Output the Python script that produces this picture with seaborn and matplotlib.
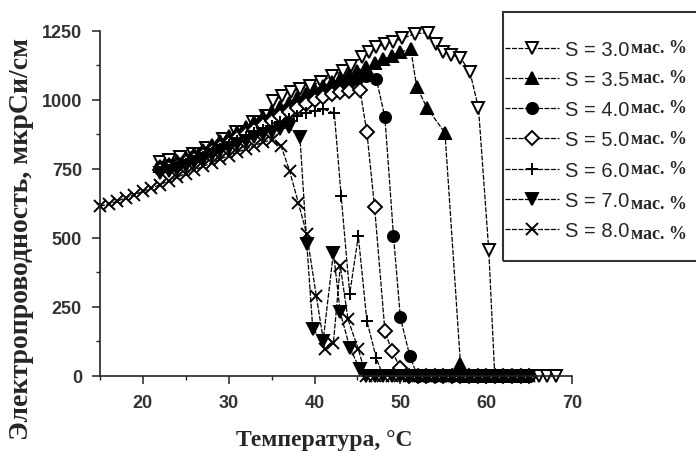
import matplotlib
matplotlib.use("Agg")
import matplotlib.pyplot as plt
from matplotlib.patches import Rectangle
from matplotlib.ticker import MultipleLocator
import seaborn as sns

# conductivity vs temperature for several surfactant contents S (mass %)
S_LABELS = ["S = 3.0", "S = 3.5", "S = 4.0", "S = 5.0", "S = 6.0", "S = 7.0", "S = 8.0"]

T_30 = [22, 23, 24.3, 25.8, 27.4, 29.3, 30.9, 32.8, 34.4, 35.2, 36.2, 37.3, 38.3, 39.5, 40.7,
        42, 43.3, 44.3, 45.5, 46.3, 47.2, 48.2, 49.2, 50.2, 51.7, 53.2, 54.1, 55, 55.9, 57,
        58.1, 59.1, 60.3, 61, 62, 63, 64, 65, 66.2, 67.1, 68.1]
K_30 = [775, 783, 791, 803, 827, 858, 882, 918, 942, 996, 1014, 1027, 1039, 1050, 1065,
        1085, 1105, 1123, 1154, 1172, 1190, 1202, 1210, 1222, 1239, 1243, 1203, 1174, 1163, 1152,
        1101, 971, 456, 0, 0, 0, 0, 0, 0, 0, 0]

T_35 = [22, 23, 24, 25, 26, 27, 28, 29, 30, 31, 32, 33, 34, 35, 36, 37, 38, 39, 40, 41, 42, 43,
        44, 45, 46, 47, 48, 49, 50, 51.2, 51.9, 53.1, 55.2, 57.0, 57.6, 58.5, 59.5, 60.5, 61.5,
        62.5, 63.5, 64.5]
K_35 = [760, 768, 778, 790, 803, 818, 835, 852, 868, 884, 900, 918, 936, 955, 973, 990, 1005,
        1020, 1035, 1050, 1063, 1076, 1090, 1104, 1118, 1133, 1148, 1160, 1172, 1185, 1047, 971,
        880, 45, 0, 0, 0, 0, 0, 0, 0, 0]

T_40 = [22, 23, 24, 25, 26, 27, 28, 29, 30, 31, 32, 33, 34, 35, 36, 37, 38, 39, 40, 41, 42, 43,
        44, 45, 46, 47.2, 48.2, 49.2, 50.0, 51.1, 52, 53, 54, 55, 56, 57, 58, 59, 60, 61, 62, 63,
        64, 65]
K_40 = [755, 763, 772, 783, 795, 810, 825, 840, 855, 870, 886, 902, 918, 935, 952, 968, 984, 998,
        1012, 1026, 1040, 1052, 1064, 1075, 1085, 1075, 936, 507, 212, 72, 0, 0, 0, 0, 0, 0, 0,
        0, 0, 0, 0, 0, 0, 0]

T_50 = [22, 23, 24, 25, 26, 27, 28, 29, 30, 31, 32, 33, 34, 35, 36, 37, 38, 39, 40, 41, 42, 43,
        44, 45.3, 46.1, 47.0, 48.2, 49.0, 50.0, 51, 52, 53, 54, 55, 56, 57, 58, 59, 60, 61, 62,
        63, 64, 65]
K_50 = [745, 752, 762, 773, 785, 800, 815, 830, 845, 860, 876, 892, 908, 924, 940, 955, 970, 985,
        1000, 1010, 1020, 1028, 1032, 1035, 882, 610, 163, 90, 30, 0, 0, 0, 0, 0, 0, 0, 0, 0, 0,
        0, 0, 0, 0, 0]

T_60 = [22, 23, 24, 25, 26, 27, 28, 29, 30, 31, 32, 33, 34, 35, 36, 37, 38, 39, 40, 41, 42.3,
        43.1, 44.1, 45.1, 46.1, 47.2, 48, 49, 50, 51, 52, 53, 54, 55, 56, 57, 58, 59, 60, 61, 62,
        63, 64, 65]
K_60 = [740, 747, 756, 767, 779, 793, 808, 822, 836, 850, 864, 878, 892, 906, 919, 931, 942, 952,
        960, 966, 952, 652, 298, 507, 199, 64, 0, 0, 0, 0, 0, 0, 0, 0, 0, 0, 0, 0, 0, 0, 0, 0, 0, 0]

T_70 = [22, 23, 24, 25, 26, 27, 28, 29, 30, 31, 32, 33, 34, 35, 36, 37, 38.3, 39.1, 39.8, 41.0,
        42.2, 43.0, 44.1, 45.3, 46, 47, 48, 49, 50, 51, 52, 53, 54, 55, 56, 57, 58, 59, 60, 61,
        62, 63, 64, 65]
K_70 = [735, 742, 751, 761, 773, 786, 800, 813, 826, 839, 852, 864, 875, 885, 893, 900, 864, 477,
        169, 127, 447, 230, 103, 24, 0, 0, 0, 0, 0, 0, 0, 0, 0, 0, 0, 0, 0, 0, 0, 0, 0, 0, 0, 0]

T_80 = [15, 16, 17, 18, 19, 20, 21, 22, 23, 24, 25, 26, 27, 28, 29, 30, 31, 32, 33, 34, 35, 36.1,
        37.1, 38.1, 39.1, 40.2, 41.2, 42.2, 43.0, 43.9, 45.1, 46, 47, 48, 49, 50, 51, 52, 53, 54,
        55, 56, 57, 58, 59, 60, 61, 62, 63, 64, 65]
K_80 = [615, 622, 633, 645, 657, 668, 680, 693, 707, 720, 733, 746, 759, 772, 785, 798, 810, 822,
        834, 846, 856, 833, 742, 628, 513, 290, 97, 121, 398, 205, 97, 0, 0, 0, 0, 0, 0, 0, 0, 0,
        0, 0, 0, 0, 0, 0, 0, 0, 0, 0, 0]

SERIES = [(T_30, K_30), (T_35, K_35), (T_40, K_40), (T_50, K_50),
          (T_60, K_60), (T_70, K_70), (T_80, K_80)]
MARKERS = ["v", "^", "o", "D", "+", "v", "x"]
FACES = ["white", "black", "black", "white", "black", "black", "black"]
SIZES = [8, 8, 8, 7, 8, 8, 8]
UNIT_DROP = [0, 0, 0, 0, 0, 5, 5]

sns.set_style("ticks")
plt.rcParams["font.family"] = ["Liberation Sans", "DejaVu Sans"]

fig = plt.figure(figsize=(6.96, 4.52), dpi=100)
W, H = 696, 452
ax = fig.add_axes([100 / W, 1 - 377 / H, 472 / W, (377 - 31.7) / H])

for (t, k), lab, m, fc, ms in zip(SERIES, S_LABELS, MARKERS, FACES, SIZES):
    sns.lineplot(x=t, y=k, ax=ax, color="black", lw=0.9, linestyle=(0, (4, 1.2)),
                 marker=m, markersize=ms, markerfacecolor=fc, markeredgecolor="black",
                 markeredgewidth=1.4, label=lab, errorbar=None, clip_on=False)

ax.set_xlim(15, 70)
ax.set_ylim(0, 1250)
ax.xaxis.set_major_locator(MultipleLocator(10))
ax.xaxis.set_minor_locator(MultipleLocator(5))
ax.yaxis.set_major_locator(MultipleLocator(250))
ax.yaxis.set_minor_locator(MultipleLocator(125))
ax.set_xticks([20, 30, 40, 50, 60, 70])
sns.despine(ax=ax)
for sp in ("left", "bottom"):
    ax.spines[sp].set_linewidth(1.2)
    ax.spines[sp].set_color("#222222")
ax.tick_params(which="major", direction="out", length=6, width=1.1, color="#222222",
               labelsize=13, labelcolor="#333333", pad=7)
ax.tick_params(which="minor", direction="out", length=3, width=1, color="#222222")
for lbl in ax.get_xticklabels() + ax.get_yticklabels():
    lbl.set_fontweight("bold")

ax.set_xlabel("Температура, °C", family="Liberation Serif", fontweight="bold", fontsize=17,
              va="center")
ax.xaxis.set_label_coords((324 - 100) / 472, (377 - 441) / 345.3)
ax.set_ylabel("Электропроводность, мкрСи/см", family="Liberation Serif", fontweight="bold",
              fontsize=20, va="center")
ax.yaxis.set_label_coords((22 - 100) / 472, (377 - 239) / 345.3)

handles, labels = ax.get_legend_handles_labels()
leg = ax.legend(handles, labels, loc="center left", bbox_to_anchor=(505 / W, 1 - 141 / H),
                bbox_transform=fig.transFigure, frameon=False, borderpad=0, borderaxespad=0,
                handlelength=2.7, handletextpad=0.3, labelspacing=0.55,
                prop={"family": "Liberation Sans", "size": 14.5})
fig.add_artist(Rectangle((503 / W, 1 - 262 / H), 0.3, 249 / H, transform=fig.transFigure,
                         fill=False, edgecolor="#333333", lw=1.5, clip_on=False))

fig.canvas.draw()
renderer = fig.canvas.get_renderer()
for txt, drop in zip(leg.get_texts(), UNIT_DROP):
    bb = txt.get_window_extent(renderer)
    fig.text((bb.x1 + 1) / W, (bb.y0 + 3 - drop) / H, "мас. %", family="Liberation Serif",
             fontweight="bold", fontsize=13, va="bottom", ha="left")

fig.savefig("out.png", dpi=100)
